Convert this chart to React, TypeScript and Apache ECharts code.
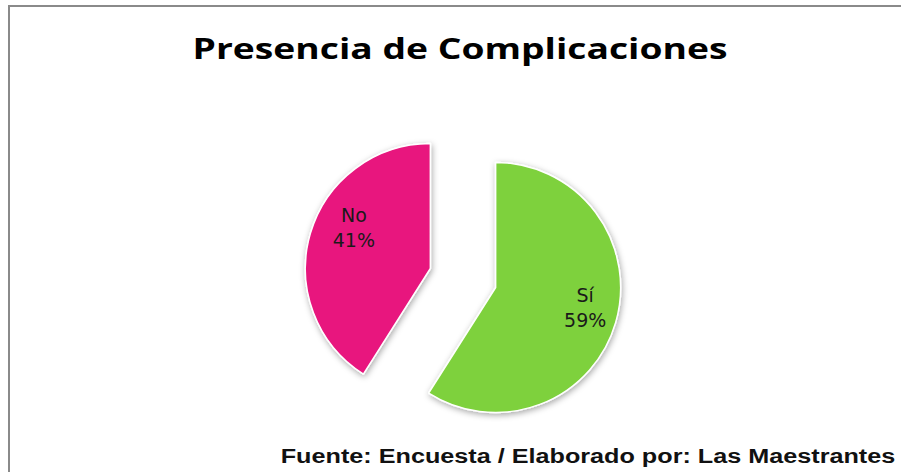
import React, { useEffect, useRef } from "react";
import * as echarts from "echarts";

const titleText = "Presencia de Complicaciones";
const footerText = "Fuente: Encuesta / Elaborado por: Las Maestrantes";
const categories = ["Sí", "No"];
const values = [59, 41];
const colors = ["#7ED13C", "#E8177E"];
const labelPads = [
  [0, 0, 0, 10],
  [0, 0, 0, 16],
];
const spacerHeights = [10, 32];

export default function App() {
  const ref = useRef<HTMLDivElement>(null);
  useEffect(() => {
    if (!ref.current) return;
    const chart = echarts.init(ref.current, undefined, { renderer: "svg" });
    const data = categories.map((name, i) => ({
      name,
      value: values[i],
      selected: true,
      itemStyle: { color: colors[i] },
    }));
    const center = [463, 278];
    chart.setOption({
      animation: false,
      backgroundColor: "#ffffff",
      graphic: [
        {
          type: "rect",
          shape: { x: 9, y: 6, width: 1000, height: 1000 },
          style: { fill: "none", stroke: "#8a8a8a", lineWidth: 2 },
          silent: true,
        },
        {
          type: "text",
          x: 460,
          y: 48,
          scaleX: 1.33,
          style: {
            text: titleText,
            x: 0,
            y: 0,
            font: 'bold 28px "Open Sans"',
            fill: "#000000",
            textAlign: "center",
            textVerticalAlign: "middle",
          },
        },
        {
          type: "text",
          x: 588,
          y: 456,
          scaleX: 1.2,
          style: {
            text: footerText,
            x: 0,
            y: 0,
            font: 'bold 21px "Liberation Sans"',
            fill: "#111111",
            textAlign: "center",
            textVerticalAlign: "middle",
          },
        },
      ],
      series: [
        {
          type: "pie",
          center,
          radius: [0, 125],
          startAngle: 90,
          clockwise: true,
          selectedMode: "multiple",
          selectedOffset: 34,
          percentPrecision: 0,
          emphasis: { disabled: true },
          label: { show: false },
          labelLine: { show: false },
          itemStyle: {
            borderColor: "#ffffff",
            borderWidth: 1.5,
            shadowBlur: 6,
            shadowColor: "rgba(0,0,0,0.35)",
            shadowOffsetX: 1,
            shadowOffsetY: 2,
          },
          data,
        },
        {
          type: "pie",
          center,
          radius: [45, 125],
          startAngle: 90,
          clockwise: true,
          selectedMode: "multiple",
          selectedOffset: 34,
          percentPrecision: 0,
          silent: true,
          emphasis: { disabled: true },
          itemStyle: { color: "rgba(0,0,0,0)" },
          label: {
            show: true,
            position: "inside",
            fontFamily: "DejaVu Sans",
            fontSize: 19,
            lineHeight: 25,
            color: "#1a1a1a",
          },
          labelLine: { show: false },
          data: categories.map((name, i) => ({
            name,
            value: values[i],
            selected: true,
            label: {
              padding: labelPads[i],
              formatter: "{b}\n{d}%\n{s| }",
              rich: { s: { height: spacerHeights[i], lineHeight: spacerHeights[i], fontSize: 2 } },
            },
          })),
        },
      ],
    });
    return () => chart.dispose();
  }, []);
  return (
    <div
      ref={ref}
      style={{ position: "absolute", left: 0, top: 0, width: 901, height: 472 }}
    />
  );
}
